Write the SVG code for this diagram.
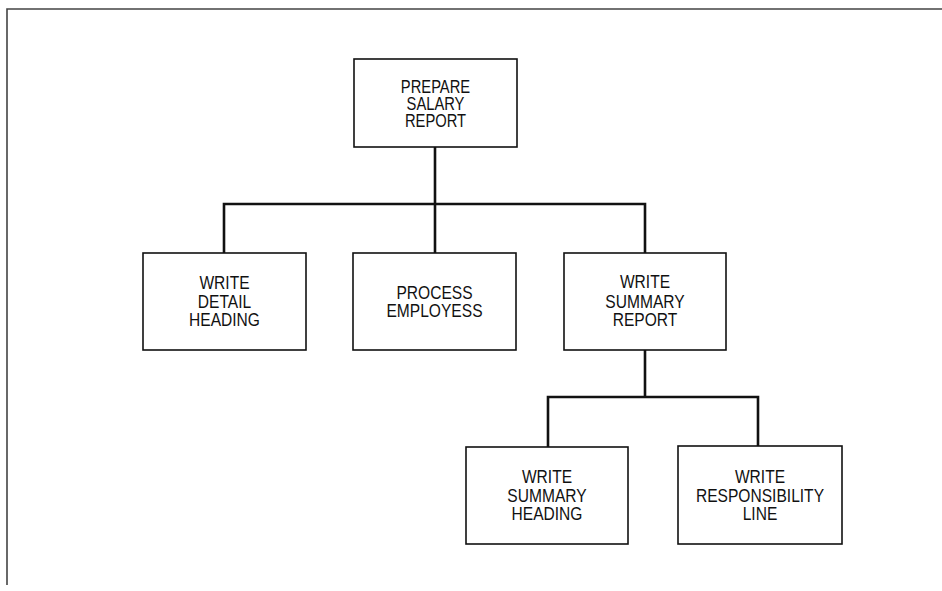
<svg xmlns="http://www.w3.org/2000/svg" width="942" height="591" viewBox="0 0 942 591">
<style>
.box{fill:#fff;stroke:#111;stroke-width:1.6}
.t{font-family:"Liberation Sans",Arial,sans-serif;font-size:19px;fill:#111;text-anchor:middle}
.c{fill:none;stroke:#111;stroke-width:2.6}
.frame{fill:none;stroke:#444;stroke-width:1.6}
</style>
<rect width="942" height="591" fill="#fff"/>
<path class="frame" d="M7,585 V9 H942"/>
<g id="connectors">
<path class="c" d="M435,147 V253 M224,253 V204 H645 V253 M645,350 V397 M548,447 V397 H758 V446"/>
</g>
<g id="prepare">
<rect class="box" x="354" y="59" width="163" height="88"/>
<text class="t" style="font-size:18px" transform="translate(435.5,0) scale(0.82,1)"><tspan x="0" y="93">PREPARE</tspan><tspan x="0" y="110">SALARY</tspan><tspan x="0" y="127">REPORT</tspan></text>
</g>
<g id="detail">
<rect class="box" x="143" y="253" width="163" height="97"/>
<text class="t" transform="translate(224.5,0) scale(0.82,1)"><tspan x="0" y="289">WRITE</tspan><tspan x="0" y="308">DETAIL</tspan><tspan x="0" y="326">HEADING</tspan></text>
</g>
<g id="process">
<rect class="box" x="353" y="253" width="163" height="97"/>
<text class="t" transform="translate(434.5,0) scale(0.82,1)"><tspan x="0" y="299">PROCESS</tspan><tspan x="0" y="317">EMPLOYESS</tspan></text>
</g>
<g id="summary">
<rect class="box" x="564" y="253" width="162" height="97"/>
<text class="t" transform="translate(645,0) scale(0.82,1)"><tspan x="0" y="288">WRITE</tspan><tspan x="0" y="308">SUMMARY</tspan><tspan x="0" y="326">REPORT</tspan></text>
</g>
<g id="heading">
<rect class="box" x="466" y="447" width="162" height="97"/>
<text class="t" transform="translate(547,0) scale(0.82,1)"><tspan x="0" y="483">WRITE</tspan><tspan x="0" y="502">SUMMARY</tspan><tspan x="0" y="520">HEADING</tspan></text>
</g>
<g id="responsibility">
<rect class="box" x="678" y="446" width="164" height="98"/>
<text class="t" transform="translate(760,0) scale(0.82,1)"><tspan x="0" y="483">WRITE</tspan><tspan x="0" y="502">RESPONSIBILITY</tspan><tspan x="0" y="520">LINE</tspan></text>
</g>
</svg>
